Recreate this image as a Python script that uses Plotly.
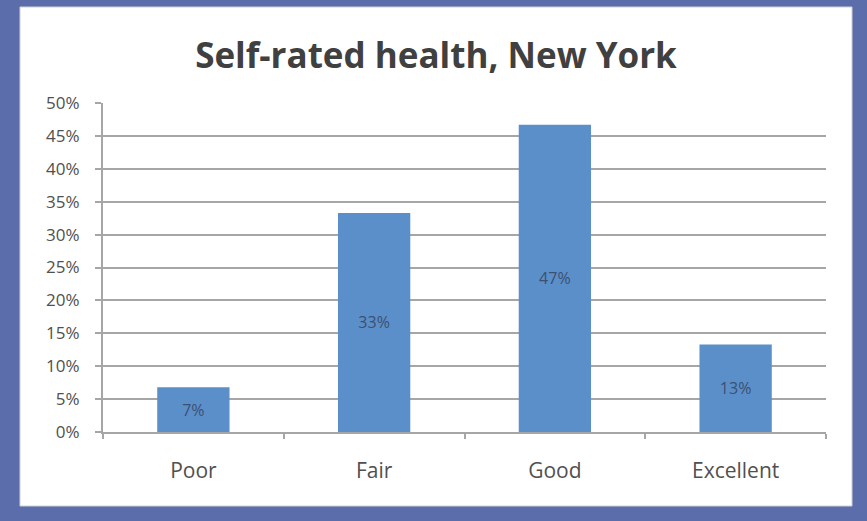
import plotly.graph_objects as go

categories = ["Poor", "Fair", "Good", "Excellent"]
values = [0.068, 0.333, 0.467, 0.133]
labels = [f"{round(v * 100)}%" for v in values]

W, H = 867, 521
L, R, T, B = 103, 41, 103, 89
pw, ph = W - L - R, H - T - B

def px_x(x):
    return (x - L) / pw

def px_y(y):
    return (H - B - y) / ph

fig = go.Figure(
    go.Bar(
        x=categories,
        y=values,
        text=labels,
        textposition="inside",
        insidetextanchor="middle",
        textfont=dict(family="Open Sans", size=16, color="#3d5070"),
        marker=dict(color="#5b8fca", line=dict(width=0)),
        cliponaxis=False,
    )
)

fig.add_shape(
    type="rect", xref="paper", yref="paper",
    x0=px_x(20), x1=px_x(852), y0=px_y(506), y1=px_y(7),
    fillcolor="white", line=dict(color="#d0d0d0", width=1), layer="below",
)

fig.update_layout(
    width=W, height=H,
    margin=dict(l=L, r=R, t=T, b=B),
    paper_bgcolor="#5b6eab",
    plot_bgcolor="rgba(0,0,0,0)",
    bargap=0.6,
    showlegend=False,
    title=dict(
        text="<b>Self-rated health, New York</b>",
        x=436 / W, xanchor="center",
        y=1 - 56 / H, yanchor="middle",
        font=dict(family="Open Sans", size=35, color="#404040"),
    ),
    xaxis=dict(
        showline=True, linecolor="#a6a6a6", linewidth=2,
        ticks="outside", tickson="boundaries", ticklen=5, tickcolor="#a6a6a6", tickwidth=2,
        tickfont=dict(family="Open Sans", size=21, color="#505050"),
        ticklabelstandoff=19,
        showgrid=False,
    ),
    yaxis=dict(
        range=[0, 0.5], dtick=0.05, tickformat=".0%",
        showline=True, linecolor="#a6a6a6", linewidth=2,
        ticks="outside", ticklen=6, tickcolor="#a6a6a6", tickwidth=2,
        showgrid=True, gridcolor="#a6a6a6", gridwidth=2,
        zeroline=False,
        tickfont=dict(family="Open Sans", size=17, color="#505050"),
        ticklabelstandoff=12,
    ),
)

fig.write_html(
    "out.html",
    config={"displayModeBar": False},
    post_script="document.body.style.margin='0';",
)
